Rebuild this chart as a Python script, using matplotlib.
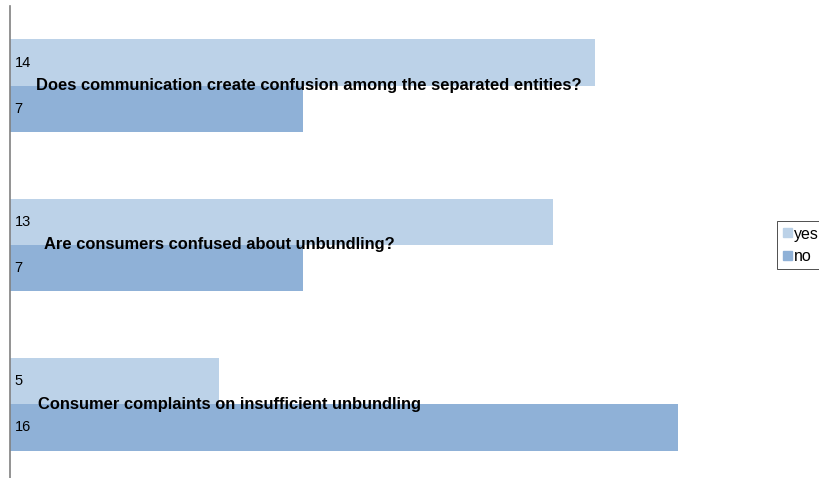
import matplotlib.pyplot as plt
from matplotlib.patches import Patch

plt.rcParams['font.family'] = ['Liberation Sans', 'DejaVu Sans']

questions = ['Does communication create confusion among the separated entities?',
             'Are consumers confused about unbundling?',
             'Consumer complaints on insufficient unbundling']
yes_counts = [14, 13, 5]
no_counts = [7, 7, 16]

yes_color = '#bcd2e8'
no_color = '#8fb1d7'

fig = plt.figure(figsize=(8.2, 4.78), dpi=100)
ax = fig.add_axes([10.5 / 820, -6 / 478, (740 - 10.5) / 820, 1.0])

bar_h = 0.29
pos = list(range(len(questions)))
ax.barh([p - bar_h / 2 for p in pos], yes_counts, height=bar_h, color=yes_color, label='yes')
ax.barh([p + bar_h / 2 for p in pos], no_counts, height=bar_h, color=no_color, label='no')

# value labels sit at the left end of each bar
for p, y, n in zip(pos, yes_counts, no_counts):
    ax.text(0.1, p - bar_h / 2, str(y), va='center', ha='left', fontsize=10.5)
    ax.text(0.1, p + bar_h / 2, str(n), va='center', ha='left', fontsize=10.5)

# category names overlap the bars
label_x = [0.62, 0.81, 0.65]
for p, q, lx in zip(pos, questions, label_x):
    ax.text(lx, p, q, va='center', ha='left', fontsize=11.9, fontweight='bold')

ax.set_xlim(0, (740 - 10.5) / 41.75)
ax.set_ylim(2.5, -0.5)
for s in ['top', 'right', 'bottom']:
    ax.spines[s].set_visible(False)
ax.spines['left'].set_color('#808080')
ax.spines['left'].set_linewidth(1.2)
ax.set_xticks([])
ax.set_yticks([])

handles = [Patch(color=yes_color), Patch(color=no_color)]
leg = fig.legend(handles, ['yes', 'no'], loc='upper left', bbox_to_anchor=(777 / 820, 1 - 221 / 478),
                 fontsize=11.5, frameon=True, fancybox=False, edgecolor='black',
                 handlelength=0.6, handleheight=0.5, handletextpad=0.1, borderpad=0.35,
                 labelspacing=0.45, borderaxespad=0)
leg.get_frame().set_linewidth(0.6)

fig.savefig('out.png', dpi=100)
